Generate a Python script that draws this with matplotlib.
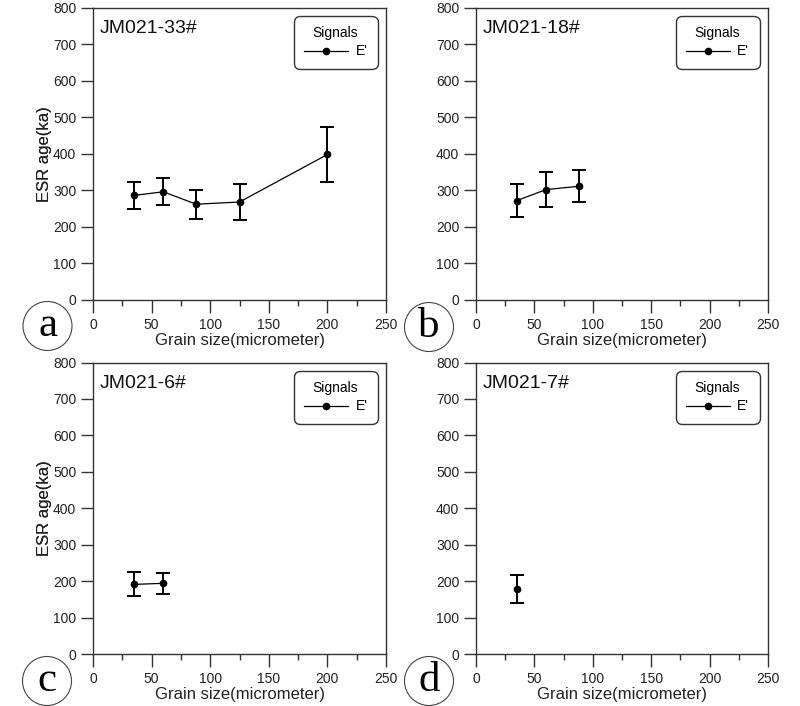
import matplotlib
matplotlib.use('Agg')
import matplotlib.pyplot as plt
from matplotlib.patches import Ellipse
from matplotlib.lines import Line2D
from matplotlib.ticker import MultipleLocator

plt.rcParams['font.family'] = ['Liberation Sans', 'DejaVu Sans']

# ---- data ----
samples = ['JM021-33#', 'JM021-18#', 'JM021-6#', 'JM021-7#']
panel_letters = ['a', 'b', 'c', 'd']

a_x = [35, 60, 88, 125, 200]
a_y = [286, 296, 262, 268, 398]
a_err = [37, 37, 40, 49, 75]

b_x = [35, 60, 88]
b_y = [272, 302, 311]
b_err = [46, 47, 44]

c_x = [35, 60]
c_y = [191, 194]
c_err = [33, 28]

d_x = [35]
d_y = [178]
d_err = [38]

xs = [a_x, b_x, c_x, d_x]
ys = [a_y, b_y, c_y, d_y]
errs = [a_err, b_err, c_err, d_err]

x_ticks = [0, 50, 100, 150, 200, 250]
y_ticks = [0, 100, 200, 300, 400, 500, 600, 700, 800]

W, H = 800, 706
fig = plt.figure(figsize=(W / 100, H / 100), dpi=100)

# axes rectangles in pixels: (left, top, right, bottom)
rects = [(93, 7.5, 386, 300), (476, 7.5, 768, 300),
         (93, 362.5, 386, 654), (476, 362.5, 768, 654)]
circles = [(47.5, 326), (429, 327), (47, 681), (429, 681)]

for i in range(4):
    l, t, r, b = rects[i]
    ax = fig.add_axes([l / W, 1 - b / H, (r - l) / W, (b - t) / H])
    ax.errorbar(xs[i], ys[i], yerr=errs[i], color='black', lw=0.9,
                marker='o', ms=4.5, elinewidth=1.4, capsize=5, capthick=1.4)
    ax.set_xlim(0, 250)
    ax.set_ylim(0, 800)
    ax.set_xticks(x_ticks)
    ax.set_yticks(y_ticks)
    ax.xaxis.set_minor_locator(MultipleLocator(25))
    ax.tick_params(axis='both', which='major', direction='out', length=9,
                   width=1, labelsize=10, color='#333333', labelcolor='#222222')
    ax.tick_params(axis='x', which='major', pad=4)
    ax.tick_params(axis='y', which='major', pad=3)
    ax.tick_params(axis='x', which='minor', direction='out', length=4.5,
                   width=1, color='#333333')
    for sp in ax.spines.values():
        sp.set_linewidth(1)
        sp.set_color('#333333')
    ax.set_xlabel('Grain size(micrometer)', fontsize=12, labelpad=1,
                  color='#222222')
    ax.set_ylabel('ESR age(ka)', fontsize=12, color='#222222')
    ax.yaxis.set_label_coords((52 - l) / (r - l), 0.5)
    ax.text(0.022, 0.957, samples[i], transform=ax.transAxes, fontsize=14,
            ha='left', va='top', color='#111111')
    handle = Line2D([], [], color='black', lw=0.9, marker='o', ms=4.5)
    leg = ax.legend([handle], ["E'"], title='Signals', loc='upper right',
                    fontsize=10, title_fontsize=10, handlelength=3.2,
                    borderpad=0.75, borderaxespad=0.6, fancybox=True,
                    framealpha=1, edgecolor='#333333', handletextpad=0.5,
                    labelspacing=0.3)
    leg.get_frame().set_linewidth(1)
    leg.get_frame().set_boxstyle('round', pad=0, rounding_size=0.45)
    # circled panel letter
    cx, cy = circles[i]
    fig.add_artist(Ellipse((cx / W, 1 - cy / H), 49 / W, 49 / H,
                           transform=fig.transFigure, fill=False,
                           edgecolor='#444444', lw=0.8))
    fig.text(cx / W, 1 - cy / H, panel_letters[i], ha='center',
             va='center', fontsize=31, family='Liberation Serif',
             color='black')

fig.savefig('out.png', dpi=100)
